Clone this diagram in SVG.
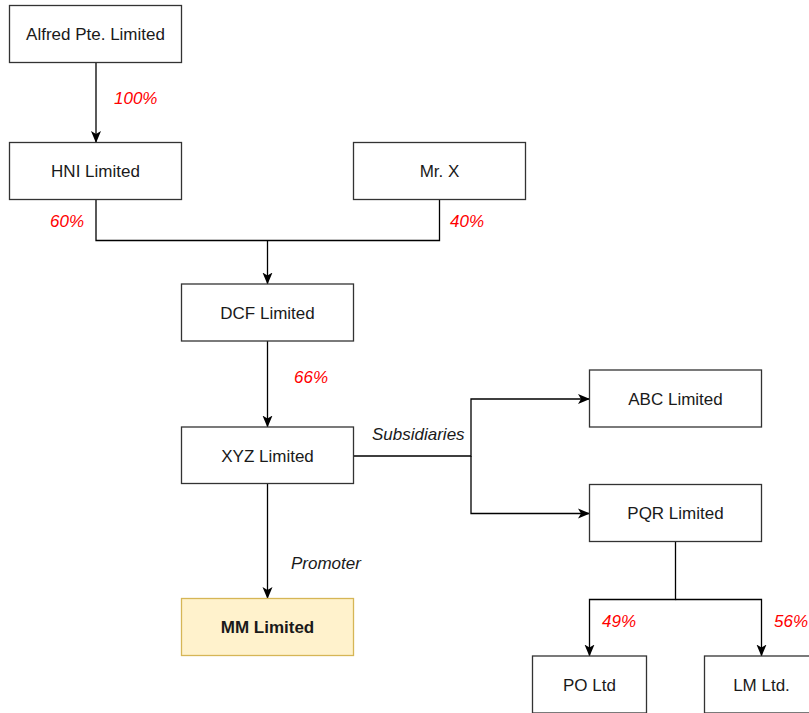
<svg xmlns="http://www.w3.org/2000/svg" width="809" height="713" viewBox="0 0 809 713">
<style>
.box{fill:#ffffff;stroke:#333333;stroke-width:1.3}
.hl{fill:#fff2cc;stroke:#d6b656;stroke-width:1.3}
.t{font-family:"Liberation Sans",Arial,sans-serif;font-size:17px;fill:#1a1a1a;text-anchor:middle}
.b{font-weight:bold}
.pct{font-family:"Liberation Sans",Arial,sans-serif;font-size:17px;font-style:italic;fill:#ff0000}
.lbl{font-family:"Liberation Sans",Arial,sans-serif;font-size:17px;font-style:italic;fill:#1a1a1a}
.c{fill:none;stroke:#000000;stroke-width:1.3}
</style>
<defs>
<marker id="arr" viewBox="0 0 12 12" markerWidth="12" markerHeight="12" refX="11.5" refY="6" orient="auto" markerUnits="userSpaceOnUse">
<path d="M0,1 L12,6 L0,11 L3,6 Z" fill="#000000"/>
</marker>
</defs>
<rect width="809" height="713" fill="#ffffff"/>
<g id="connectors">
<path class="c" d="M96,62.5 V142.5" marker-end="url(#arr)"/>
<path class="c" d="M96,199.5 V240.5 H439.5 V199.5"/>
<path class="c" d="M267.5,240.5 V284" marker-end="url(#arr)"/>
<path class="c" d="M267.5,341 V427" marker-end="url(#arr)"/>
<path class="c" d="M267.5,483.5 V598.5" marker-end="url(#arr)"/>
<path class="c" d="M353.5,456 H471 V399 H589.5" marker-end="url(#arr)"/>
<path class="c" d="M471,456 V513.5 H589.5" marker-end="url(#arr)"/>
<path class="c" d="M675.5,541.5 V599.5 H589.5 V656" marker-end="url(#arr)"/>
<path class="c" d="M675.5,599.5 H761.5 V656" marker-end="url(#arr)"/>
<text class="pct" x="114" y="104">100%</text>
<text class="pct" x="50" y="226.5">60%</text>
<text class="pct" x="450" y="226.5">40%</text>
<text class="pct" x="294" y="383">66%</text>
<text class="lbl" x="372" y="440">Subsidiaries</text>
<text class="lbl" x="291" y="569">Promoter</text>
<text class="pct" x="602" y="626.5">49%</text>
<text class="pct" x="774" y="626.5">56%</text>
</g>
<g id="alfred"><rect class="box" x="9.5" y="5.5" width="172" height="57"/><text class="t" x="95.5" y="40">Alfred Pte. Limited</text></g>
<g id="hni"><rect class="box" x="9.5" y="142.5" width="172" height="57"/><text class="t" x="95.5" y="177">HNI Limited</text></g>
<g id="mrx"><rect class="box" x="353.5" y="142.5" width="172" height="57"/><text class="t" x="439.5" y="177">Mr. X</text></g>
<g id="dcf"><rect class="box" x="181.5" y="284" width="172" height="57"/><text class="t" x="267.5" y="318.5">DCF Limited</text></g>
<g id="xyz"><rect class="box" x="181.5" y="427" width="172" height="56.5"/><text class="t" x="267.5" y="461.5">XYZ Limited</text></g>
<g id="mm"><rect class="hl" x="181.5" y="598.5" width="172" height="57"/><text class="t b" x="267.5" y="633">MM Limited</text></g>
<g id="abc"><rect class="box" x="589.5" y="370" width="172" height="57"/><text class="t" x="675.5" y="404.5">ABC Limited</text></g>
<g id="pqr"><rect class="box" x="589.5" y="484.5" width="172" height="57"/><text class="t" x="675.5" y="519">PQR Limited</text></g>
<g id="po"><rect class="box" x="532.5" y="656" width="114" height="57"/><text class="t" x="589.5" y="690.5">PO Ltd</text></g>
<g id="lm"><rect class="box" x="704.5" y="656" width="114" height="57"/><text class="t" x="761.5" y="690.5">LM Ltd.</text></g>
</svg>
